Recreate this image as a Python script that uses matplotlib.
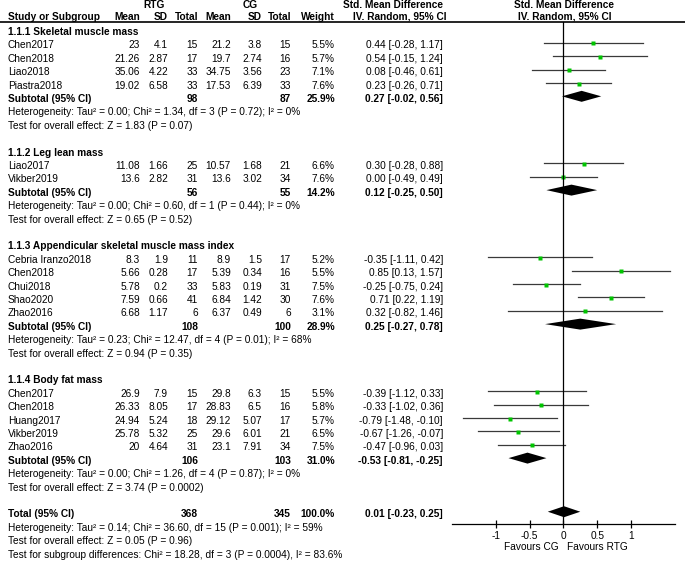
import matplotlib
matplotlib.use("Agg")
import matplotlib.pyplot as plt

plt.rcParams['font.family'] = ['Liberation Sans', 'DejaVu Sans']

# Study level data (four subgroups)
study = ["Chen2017", "Chen2018", "Liao2018", "Piastra2018",
         "Liao2017", "Vikber2019",
         "Cebria Iranzo2018", "Chen2018", "Chui2018", "Shao2020", "Zhao2016",
         "Chen2017", "Chen2018", "Huang2017", "Vikber2019", "Zhao2016"]
group_of = [0, 0, 0, 0, 1, 1, 2, 2, 2, 2, 2, 3, 3, 3, 3, 3]
rtg_mean = [23, 21.26, 35.06, 19.02, 11.08, 13.6, 8.3, 5.66, 5.78, 7.59, 6.68,
            26.9, 26.33, 24.94, 25.78, 20]
rtg_sd = [4.1, 2.87, 4.22, 6.58, 1.66, 2.82, 1.9, 0.28, 0.2, 0.66, 1.17,
          7.9, 8.05, 5.24, 5.32, 4.64]
rtg_n = [15, 17, 33, 33, 25, 31, 11, 17, 33, 41, 6, 15, 17, 18, 25, 31]
cg_mean = [21.2, 19.7, 34.75, 17.53, 10.57, 13.6, 8.9, 5.39, 5.83, 6.84, 6.37,
           29.8, 28.83, 29.12, 29.6, 23.1]
cg_sd = [3.8, 2.74, 3.56, 6.39, 1.68, 3.02, 1.5, 0.34, 0.19, 1.42, 0.49,
         6.3, 6.5, 5.07, 6.01, 7.91]
cg_n = [15, 16, 23, 33, 21, 34, 17, 16, 31, 30, 6, 15, 16, 17, 21, 34]
weight = [5.5, 5.7, 7.1, 7.6, 6.6, 7.6, 5.2, 5.5, 7.5, 7.6, 3.1,
          5.5, 5.8, 5.7, 6.5, 7.5]
smd = [0.44, 0.54, 0.08, 0.23, 0.30, 0.00, -0.35, 0.85, -0.25, 0.71, 0.32,
       -0.39, -0.33, -0.79, -0.67, -0.47]
ci_lo = [-0.28, -0.15, -0.46, -0.26, -0.28, -0.49, -1.11, 0.13, -0.75, 0.22, -0.82,
         -1.12, -1.02, -1.48, -1.26, -0.96]
ci_hi = [1.17, 1.24, 0.61, 0.71, 0.88, 0.49, 0.42, 1.57, 0.24, 1.19, 1.46,
         0.33, 0.36, -0.10, -0.07, 0.03]

# Subgroup summaries
group_title = ["1.1.1 Skeletal muscle mass", "1.1.2 Leg lean mass",
               "1.1.3 Appendicular skeletal muscle mass index", "1.1.4 Body fat mass"]
sub_rtg_n = [98, 56, 108, 106]
sub_cg_n = [87, 55, 100, 103]
sub_weight = [25.9, 14.2, 28.9, 31.0]
sub_smd = [0.27, 0.12, 0.25, -0.53]
sub_lo = [-0.02, -0.25, -0.27, -0.81]
sub_hi = [0.56, 0.50, 0.78, -0.25]
sub_het = ["Heterogeneity: Tau\u00b2 = 0.00; Chi\u00b2 = 1.34, df = 3 (P = 0.72); I\u00b2 = 0%",
           "Heterogeneity: Tau\u00b2 = 0.00; Chi\u00b2 = 0.60, df = 1 (P = 0.44); I\u00b2 = 0%",
           "Heterogeneity: Tau\u00b2 = 0.23; Chi\u00b2 = 12.47, df = 4 (P = 0.01); I\u00b2 = 68%",
           "Heterogeneity: Tau\u00b2 = 0.00; Chi\u00b2 = 1.26, df = 4 (P = 0.87); I\u00b2 = 0%"]
sub_z = ["Test for overall effect: Z = 1.83 (P = 0.07)",
         "Test for overall effect: Z = 0.65 (P = 0.52)",
         "Test for overall effect: Z = 0.94 (P = 0.35)",
         "Test for overall effect: Z = 3.74 (P = 0.0002)"]

# Overall
tot_rtg_n, tot_cg_n, tot_weight = 368, 345, 100.0
tot_smd, tot_lo, tot_hi = 0.01, -0.23, 0.25
tot_lines = ["Heterogeneity: Tau\u00b2 = 0.14; Chi\u00b2 = 36.60, df = 15 (P = 0.001); I\u00b2 = 59%",
             "Test for overall effect: Z = 0.05 (P = 0.96)",
             "Test for subgroup differences: Chi\u00b2 = 18.28, df = 3 (P = 0.0004), I\u00b2 = 83.6%"]

xticks = [-1, -0.5, 0, 0.5, 1]
xticklabels = ["-1", "-0.5", "0", "0.5", "1"]

# layout (pixels)
W, H = 685, 561
Y0, DY = 32.0, 13.4          # first row centre, row pitch
FS = 7.3
GREEN = '#00c400'
LINE = '#3a3a3a'


def row_of(ypix):
    return (ypix - Y0) / DY


fig = plt.figure(figsize=(W / 100, H / 100), dpi=100)

# text layer: x in pixels, y in rows
tax = fig.add_axes([0, 0, 1, 1])
tax.set_xlim(0, W)
tax.set_ylim(row_of(H), row_of(0))
tax.axis('off')

# forest layer
ax_left, ax_right, ax_top, ax_bot = 451.7, 675.0, 21.7, 524.0
fax = fig.add_axes([ax_left / W, 1 - ax_bot / H, (ax_right - ax_left) / W, (ax_bot - ax_top) / H])
fax.set_facecolor('none')
fax.set_xlim(-1.65, 1.65)
fax.set_ylim(row_of(ax_bot), row_of(ax_top))

# column right edges
c_name = 8
c_rm, c_rs, c_rn = 140, 168, 198
c_cm, c_cs, c_cn = 231, 262, 291
c_w, c_ci = 335, 443


def t(x, r, s, ha='right', bold=False):
    tax.text(x, r, s, ha=ha, va='center', fontsize=FS,
             fontweight='bold' if bold else 'normal', color='black')


def ci_txt(m, a, b):
    return "%.2f [%.2f, %.2f]" % (m, a, b)


# headers
hr0, hr = row_of(5.5), row_of(16.8)
t(154, hr0, "RTG", ha='center', bold=True)
t(250, hr0, "CG", ha='center', bold=True)
t(393, hr0, "Std. Mean Difference", ha='center', bold=True)
t(564, hr0, "Std. Mean Difference", ha='center', bold=True)
t(c_name, hr, "Study or Subgroup", ha='left', bold=True)
for x, s in [(c_rm, "Mean"), (c_rs, "SD"), (c_rn, "Total"), (c_cm, "Mean"),
             (c_cs, "SD"), (c_cn, "Total"), (c_w, "Weight")]:
    t(x, hr, s, bold=True)
t(400, hr, "IV. Random, 95% CI", ha='center', bold=True)
t(565, hr, "IV. Random, 95% CI", ha='center', bold=True)
tax.axhline(row_of(21.7), color='black', lw=1.2)

r = 0
for g in range(len(group_title)):
    t(c_name, r, group_title[g], ha='left', bold=True)
    r += 1
    for i in range(len(study)):
        if group_of[i] != g:
            continue
        t(c_name, r, study[i], ha='left')
        t(c_rm, r, "%g" % rtg_mean[i])
        t(c_rs, r, "%g" % rtg_sd[i])
        t(c_rn, r, "%d" % rtg_n[i])
        t(c_cm, r, "%g" % cg_mean[i])
        t(c_cs, r, "%g" % cg_sd[i])
        t(c_cn, r, "%d" % cg_n[i])
        t(c_w, r, "%.1f%%" % weight[i])
        t(c_ci, r, ci_txt(smd[i], ci_lo[i], ci_hi[i]))
        fax.plot([ci_lo[i], ci_hi[i]], [r - 0.2, r - 0.2], color=LINE, lw=0.9)
        fax.plot(smd[i], r - 0.15, marker='s', ms=2.5, color=GREEN, mec='none')
        r += 1
    t(c_name, r, "Subtotal (95% CI)", ha='left', bold=True)
    t(c_rn, r, "%d" % sub_rtg_n[g], bold=True)
    t(c_cn, r, "%d" % sub_cg_n[g], bold=True)
    t(c_w, r, "%.1f%%" % sub_weight[g], bold=True)
    t(c_ci, r, ci_txt(sub_smd[g], sub_lo[g], sub_hi[g]), bold=True)
    rc, h = r - 0.2, 0.41
    fax.fill([sub_lo[g], sub_smd[g], sub_hi[g], sub_smd[g]], [rc, rc - h, rc, rc + h],
             color='black', lw=0)
    t(c_name, r + 1, sub_het[g], ha='left')
    t(c_name, r + 2, sub_z[g], ha='left')
    r += 4

t(c_name, r, "Total (95% CI)", ha='left', bold=True)
t(c_rn, r, "%d" % tot_rtg_n, bold=True)
t(c_cn, r, "%d" % tot_cg_n, bold=True)
t(c_w, r, "%.1f%%" % tot_weight, bold=True)
t(c_ci, r, ci_txt(tot_smd, tot_lo, tot_hi), bold=True)
rc, h = r - 0.2, 0.41
fax.fill([tot_lo, tot_smd, tot_hi, tot_smd], [rc, rc - h, rc, rc + h], color='black', lw=0)
for k, s in enumerate(tot_lines):
    t(c_name, r + 1 + k, s, ha='left')

# forest axis
fax.axvline(0, color='black', lw=0.9)
for side in ['top', 'left', 'right']:
    fax.spines[side].set_visible(False)
fax.spines['bottom'].set_linewidth(0.9)
fax.set_yticks([])
fax.set_xticks(xticks)
fax.set_xticklabels(xticklabels, fontsize=FS)
fax.tick_params(axis='x', direction='inout', length=6, width=0.9, pad=2)

t(559, row_of(547.5), "Favours CG", ha='right')
t(567, row_of(547.5), "Favours RTG", ha='left')

fig.savefig("out.png", dpi=100)
